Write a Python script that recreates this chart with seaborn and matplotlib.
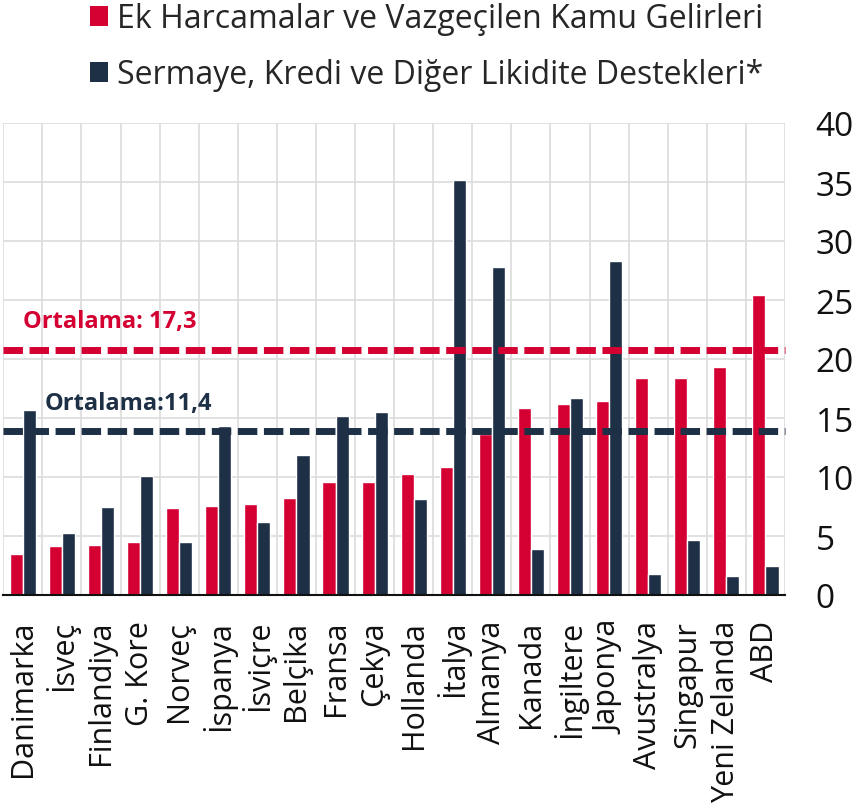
import matplotlib
matplotlib.use("Agg")
import matplotlib.pyplot as plt
import seaborn as sns
import pandas as pd
from matplotlib.patches import Patch

countries = ["Danimarka", "İsveç", "Finlandiya", "G. Kore", "Norveç", "İspanya", "İsviçre",
             "Belçika", "Fransa", "Çekya", "Hollanda", "İtalya", "Almanya", "Kanada",
             "İngiltere", "Japonya", "Avustralya", "Singapur", "Yeni Zelanda", "ABD"]
ek_harcama = [3.45, 4.15, 4.26, 4.46, 7.37, 7.57, 7.74, 8.22, 9.58, 9.6, 10.25,
              10.88, 13.64, 15.85, 16.2, 16.44, 18.36, 18.39, 19.29, 25.42]
sermaye = [15.65, 5.25, 7.46, 10.08, 4.49, 14.35, 6.19, 11.86, 15.17, 15.48, 8.1,
           35.2, 27.77, 3.93, 16.69, 28.33, 1.78, 4.66, 1.64, 2.43]
series_names = ["Ek Harcamalar ve Vazgeçilen Kamu Gelirleri",
                "Sermaye, Kredi ve Diğer Likidite Destekleri*"]
avg_lines = [20.76, 13.9]
avg_labels = ["Ortalama: 17,3", "Ortalama:11,4"]
yticks = [0, 5, 10, 15, 20, 25, 30, 35, 40]

RED = "#D40032"
NAVY = "#1E3045"

sns.set_theme(style="white")
plt.rcParams["font.family"] = ["Open Sans", "DejaVu Sans"]

df = pd.DataFrame({
    "Ülke": countries * 2,
    "Değer": ek_harcama + sermaye,
    "Seri": [series_names[0]] * len(countries) + [series_names[1]] * len(countries),
})

fig = plt.figure(figsize=(8.56, 8.12), dpi=100)
ax = fig.add_axes([3.3 / 856, 216 / 812, (785 - 3.3) / 856, (596 - 124) / 812])

sns.barplot(data=df, x="Ülke", y="Değer", hue="Seri", palette=[RED, NAVY],
            width=0.67, gap=0, saturation=1, ax=ax, legend=False, zorder=2)

ax.set_xlim(-0.5, len(countries) - 0.5)
ax.set_ylim(0, 40)
ax.set_xlabel("")
ax.set_ylabel("")

# grid
ax.set_xticks([i - 0.5 for i in range(len(countries) + 1)], minor=True)
ax.grid(True, which="minor", axis="x", color="#DCDCDC", lw=1.2, zorder=0)
ax.grid(True, which="major", axis="y", color="#DCDCDC", lw=1.2, zorder=0)
ax.grid(False, which="major", axis="x")
ax.set_axisbelow(True)
ax.tick_params(axis="x", which="minor", length=0)

ax.yaxis.tick_right()
ax.set_yticks(yticks)
ax.set_yticklabels([str(v) for v in yticks])
ax.tick_params(axis="y", length=0, pad=22, labelsize=24, labelcolor="#111111")
ax.tick_params(axis="x", which="major", length=0, pad=18, labelsize=22, labelcolor="#111111")
for lab in ax.get_xticklabels():
    lab.set_rotation(90)
    lab.set_ha("center")

for s in ["top", "left", "right"]:
    ax.spines[s].set_visible(False)
ax.spines["bottom"].set_color("#111111")
ax.spines["bottom"].set_linewidth(1.5)
ax.spines["bottom"].set_zorder(4)

# average lines
for yv, col in zip(avg_lines, [RED, NAVY]):
    ax.axhline(yv, color=col, lw=5, dashes=(2.8, 0.95), zorder=5, clip_on=False)

ax.text(0.0, 23.2, avg_labels[0], color=RED, fontsize=17, fontweight="bold",
        ha="left", va="center", zorder=6)
ax.text(0.57, 16.3, avg_labels[1], color=NAVY, fontsize=17, fontweight="bold",
        ha="left", va="center", zorder=6)

handles = [Patch(facecolor=RED, edgecolor="none"), Patch(facecolor=NAVY, edgecolor="none")]
fig.legend(handles, series_names, loc="upper left", bbox_to_anchor=(90 / 856, 1 - 3 / 812),
           frameon=False, fontsize=23, handlelength=0.55, handleheight=0.6,
           handletextpad=0.3, labelspacing=0.72, borderpad=0.0, borderaxespad=0.0)

fig.savefig("out.png", dpi=100)
